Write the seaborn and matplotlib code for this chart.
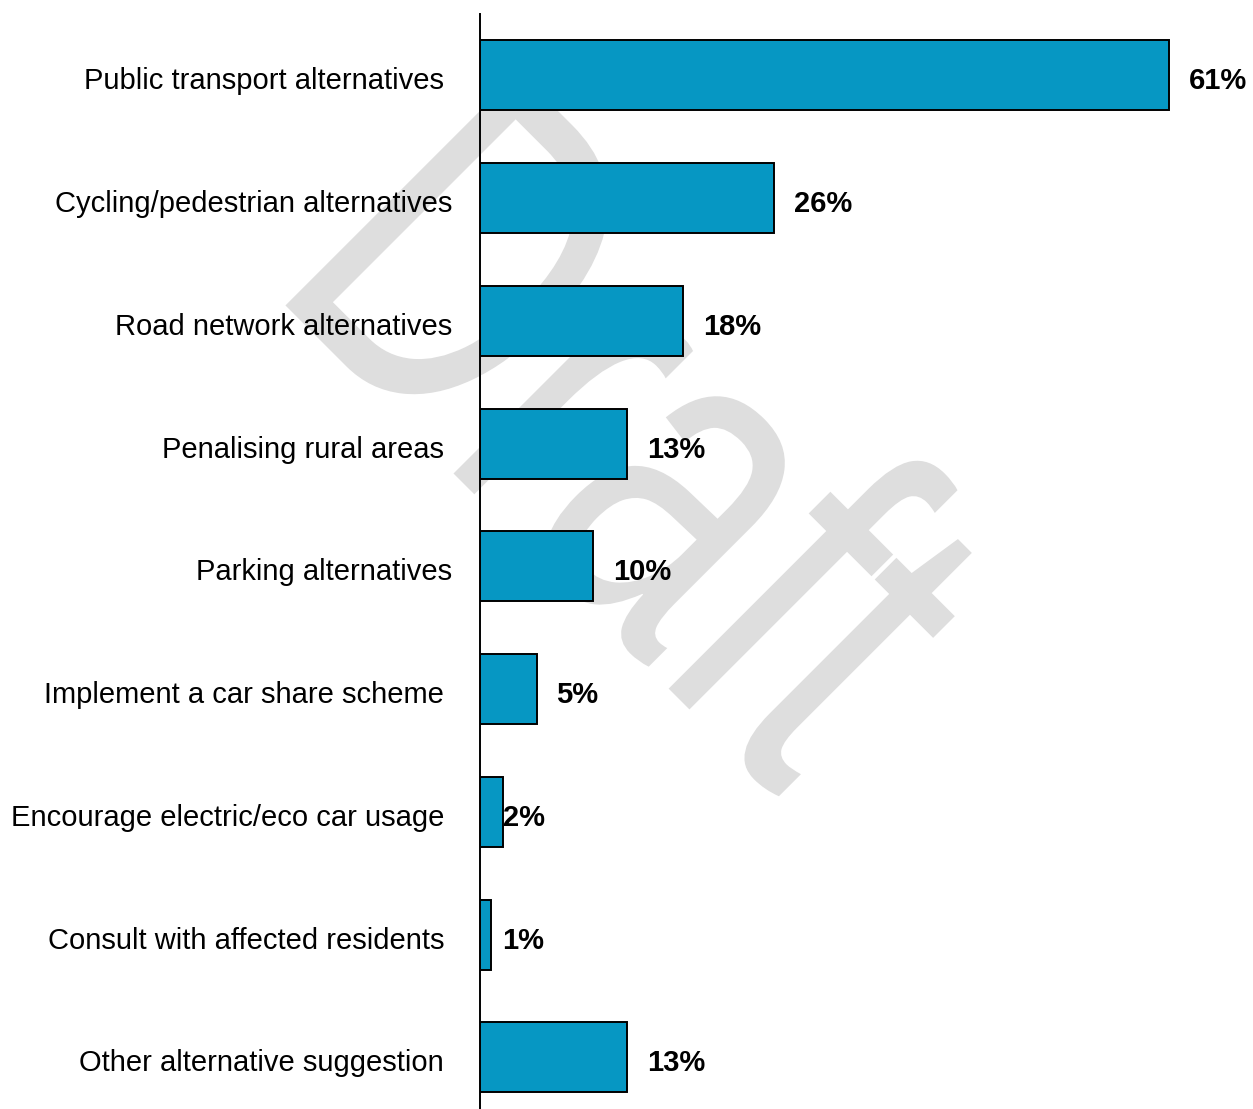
import matplotlib
matplotlib.use("Agg")
import matplotlib.pyplot as plt
import seaborn as sns
import pandas as pd
from matplotlib import transforms
from matplotlib.textpath import TextPath
from matplotlib.patches import PathPatch
from matplotlib.font_manager import FontProperties

# Survey responses: suggested alternatives (share of respondents)
categories = [
    "Public transport alternatives",
    "Cycling/pedestrian alternatives",
    "Road network alternatives",
    "Penalising rural areas",
    "Parking alternatives",
    "Implement a car share scheme",
    "Encourage electric/eco car usage",
    "Consult with affected residents",
    "Other alternative suggestion",
]
percentages = [61, 26, 18, 13, 10, 5, 2, 1, 13]
value_labels = ["61%", "26%", "18%", "13%", "10%", "5%", "2%", "1%", "13%"]

# per-row gaps (pixels) for category text and value text
category_pads = [36, 28, 28, 36, 28, 36, 36, 36, 36]
value_pads = [20, 20, 20, 20, 20, 20, 0, 11, 20]
text_drop = 6  # baseline nudge in pixels

sns.set_theme(style="white")
plt.rcParams["font.family"] = ["Liberation Sans", "DejaVu Sans"]

W, H = 1253, 1109
fig = plt.figure(figsize=(W / 100, H / 100), dpi=100)
ax = fig.add_axes([480 / W, 0, (W - 480) / W, (H - 14) / H])

df = pd.DataFrame({"category": categories, "pct": percentages})
sns.barplot(data=df, x="pct", y="category", orient="h", color="#0697C3",
            saturation=1, width=0.57, edgecolor="black", linewidth=1.4,
            ax=ax, zorder=2)

ax.set_xlim(0, (W - 480) / 11.3)
ax.set_ylim(8.42, -0.5)
ax.set_xlabel("")
ax.set_ylabel("")
ax.set_xticks([])
ax.set_yticks([])
for side in ["top", "right", "bottom"]:
    ax.spines[side].set_visible(False)
ax.spines["left"].set_color("black")
ax.spines["left"].set_linewidth(1.4)
ax.spines["left"].set_zorder(3)

# category names, right-aligned left of the axis line
for i, (name, pad) in enumerate(zip(categories, category_pads)):
    tr = transforms.offset_copy(ax.get_yaxis_transform(), fig=fig,
                                x=-pad, y=-text_drop, units="dots")
    ax.text(0, i, name, transform=tr, ha="right", va="center",
            fontsize=21, color="black", clip_on=False)

# value labels at bar ends
for i, (v, lab, pad) in enumerate(zip(percentages, value_labels, value_pads)):
    tr = transforms.offset_copy(ax.transData, fig=fig,
                                x=pad, y=-text_drop, units="dots")
    ax.text(v, i, lab, transform=tr, ha="left", va="center",
            fontsize=21, fontweight="bold", color="black", zorder=4, clip_on=False)

# diagonal "Draft" watermark (condensed glyphs), drawn behind the bars
wm_path = TextPath((0, 0), "Draft", size=1,
                   prop=FontProperties(family="Liberation Sans"))
wm_tr = (transforms.Affine2D().scale(335, 480).rotate_deg(-45).translate(266, H - 286)
         + transforms.Affine2D().scale(1 / W, 1 / H) + fig.transFigure)
wm = PathPatch(wm_path, transform=wm_tr, facecolor="#dedede",
               edgecolor="none", zorder=0, clip_on=False)
ax.add_artist(wm)

fig.savefig("out.png", dpi=100)
